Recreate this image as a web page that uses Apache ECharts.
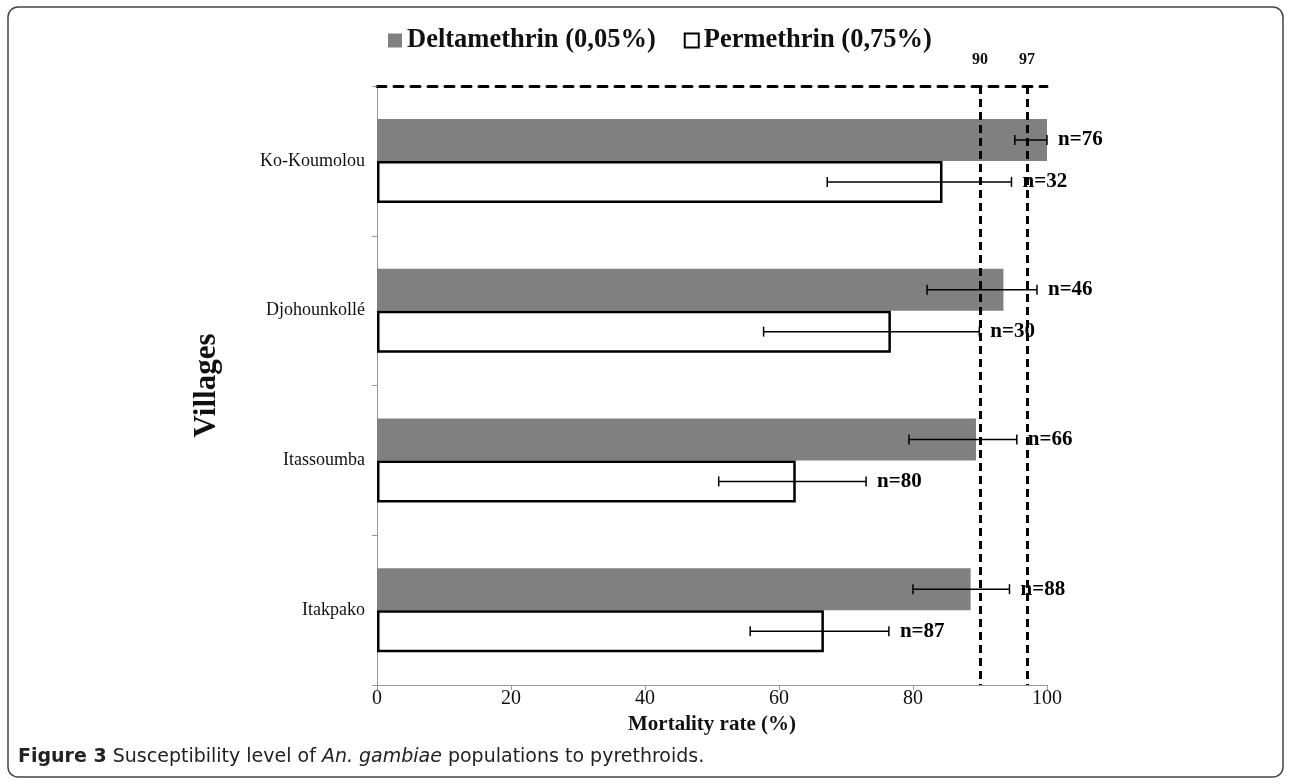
<!DOCTYPE html>
<html>
<head>
<meta charset="utf-8">
<script src="https://cdn.jsdelivr.net/npm/echarts@6/dist/echarts.min.js"></script>
<style>html,body{margin:0;padding:0;background:#fff}#c{width:1290px;height:784px}</style>
</head>
<body>
<div id="c"></div>
<script>
const villages = ['Ko-Koumolou', 'Djohounkollé', 'Itassoumba', 'Itakpako'];
const seriesNames = ['Deltamethrin (0,05%)', 'Permethrin (0,75%)'];
const deltaValues = [100, 93.5, 89.4, 88.6];
const deltaLow = [95.2, 82.1, 79.4, 80.0];
const deltaHigh = [100, 98.5, 95.5, 94.4];
const deltaN = [76, 46, 66, 88];
const permValues = [84.4, 76.7, 62.5, 66.7];
const permLow = [67.2, 57.7, 51.0, 55.7];
const permHigh = [94.7, 89.9, 73.0, 76.4];
const permN = [32, 30, 80, 87];
const thresholds = [90, 97];
const xTicks = [0, 20, 40, 60, 80, 100];

const SERIF = '"Liberation Serif", "Times New Roman", serif';
const SANS = '"DejaVu Sans", sans-serif';
const BW = 42;

function errData(low, high, n) {
  return villages.map((v, i) => [i, low[i], high[i], n[i]]);
}
function makeErr(sign) {
  return function (params, api) {
    const ci = api.value(0);
    const lo = api.coord([api.value(1), ci]);
    const hi = api.coord([api.value(2), ci]);
    const y = lo[1] + sign * BW / 2;
    const cap = 5;
    const st = { stroke: '#000', lineWidth: 1.5 };
    return {
      type: 'group',
      children: [
        { type: 'line', shape: { x1: lo[0], y1: y, x2: hi[0], y2: y }, style: st },
        { type: 'line', shape: { x1: lo[0], y1: y - cap, x2: lo[0], y2: y + cap }, style: st },
        { type: 'line', shape: { x1: hi[0], y1: y - cap, x2: hi[0], y2: y + cap }, style: st },
        { type: 'text', x: hi[0] + 11, y: y, style: { text: 'n=' + api.value(3), fill: '#000', font: 'bold 21px ' + SERIF, textVerticalAlign: 'middle', textAlign: 'left' } }
      ]
    };
  };
}

const chart = echarts.init(document.getElementById('c'));
chart.setOption({
  animation: false,
  backgroundColor: '#fff',
  title: {
    left: 13, top: 743,
    text: '{b|Figure 3} Susceptibility level of {i|An. gambiae} populations to pyrethroids.',
    textStyle: {
      fontFamily: SANS, fontSize: 19, fontWeight: 'normal', color: '#222',
      rich: {
        b: { fontFamily: SANS, fontSize: 19, fontWeight: 'bold', color: '#222' },
        i: { fontFamily: SANS, fontSize: 19, fontStyle: 'italic', color: '#222' }
      }
    }
  },
  graphic: [{
    type: 'rect', shape: { x: 8, y: 7, width: 1275, height: 770, r: 10 },
    style: { fill: 'none', stroke: '#444', lineWidth: 1.5 }, silent: true
  }],
  legend: {
    left: 383, top: 22, itemWidth: 14, itemHeight: 14, itemGap: 28,
    icon: 'rect',
    textStyle: { fontFamily: SERIF, fontSize: 26.5, fontWeight: 'bold', color: '#111' },
    data: seriesNames
  },
  grid: { left: 377, right: 243, top: 86, bottom: 99 },
  xAxis: [{
    type: 'value', min: 0, max: 100, interval: 20,
    name: 'Mortality rate (%)', nameLocation: 'middle', nameGap: 28,
    nameTextStyle: { fontFamily: SERIF, fontSize: 21, fontWeight: 'bold', color: '#111' },
    axisLine: { show: true, lineStyle: { color: '#999', width: 1 } },
    axisTick: { show: true, length: 5, lineStyle: { color: '#999' } },
    axisLabel: { fontFamily: SERIF, fontSize: 20, color: '#111', margin: 4 },
    splitLine: { show: false }
  }, {
    type: 'value', min: 0, max: 100, interval: 20, position: 'top',
    axisLine: { show: true, lineStyle: { color: '#000', width: 3, type: [9, 8] } },
    axisTick: { show: false }, axisLabel: { show: false }, splitLine: { show: false }
  }],
  yAxis: {
    type: 'category', data: villages, inverse: true,
    name: 'Villages', nameLocation: 'middle', nameGap: 155, nameRotate: 90,
    nameTextStyle: { fontFamily: SERIF, fontSize: 31, fontWeight: 'bold', color: '#111' },
    axisLine: { show: true, lineStyle: { color: '#999', width: 1 } },
    axisTick: { show: true, length: 5, lineStyle: { color: '#999' } },
    axisLabel: { fontFamily: SERIF, fontSize: 18, color: '#111', margin: 12 }
  },
  series: [{
    name: seriesNames[0], type: 'bar', data: deltaValues, barWidth: BW, barGap: '0%',
    itemStyle: { color: '#808080' },
    markLine: {
      silent: true, symbol: 'none',
      lineStyle: { color: '#000', width: 3, type: [8, 5] },
      label: { show: true, position: 'start', formatter: '{c}', distance: 18, fontFamily: SERIF, fontSize: 16, fontWeight: 'bold', color: '#111' },
      data: thresholds.map(t => ({ xAxis: t }))
    }
  }, {
    name: seriesNames[1], type: 'bar', data: permValues, barWidth: BW, barGap: '0%',
    itemStyle: { color: '#fff', borderColor: '#000', borderWidth: 2.5 }
  }, {
    type: 'custom', renderItem: makeErr(-1), data: errData(deltaLow, deltaHigh, deltaN), z: 5, silent: true
  }, {
    type: 'custom', renderItem: makeErr(1), data: errData(permLow, permHigh, permN), z: 5, silent: true
  }]
});
</script>
</body>
</html>
